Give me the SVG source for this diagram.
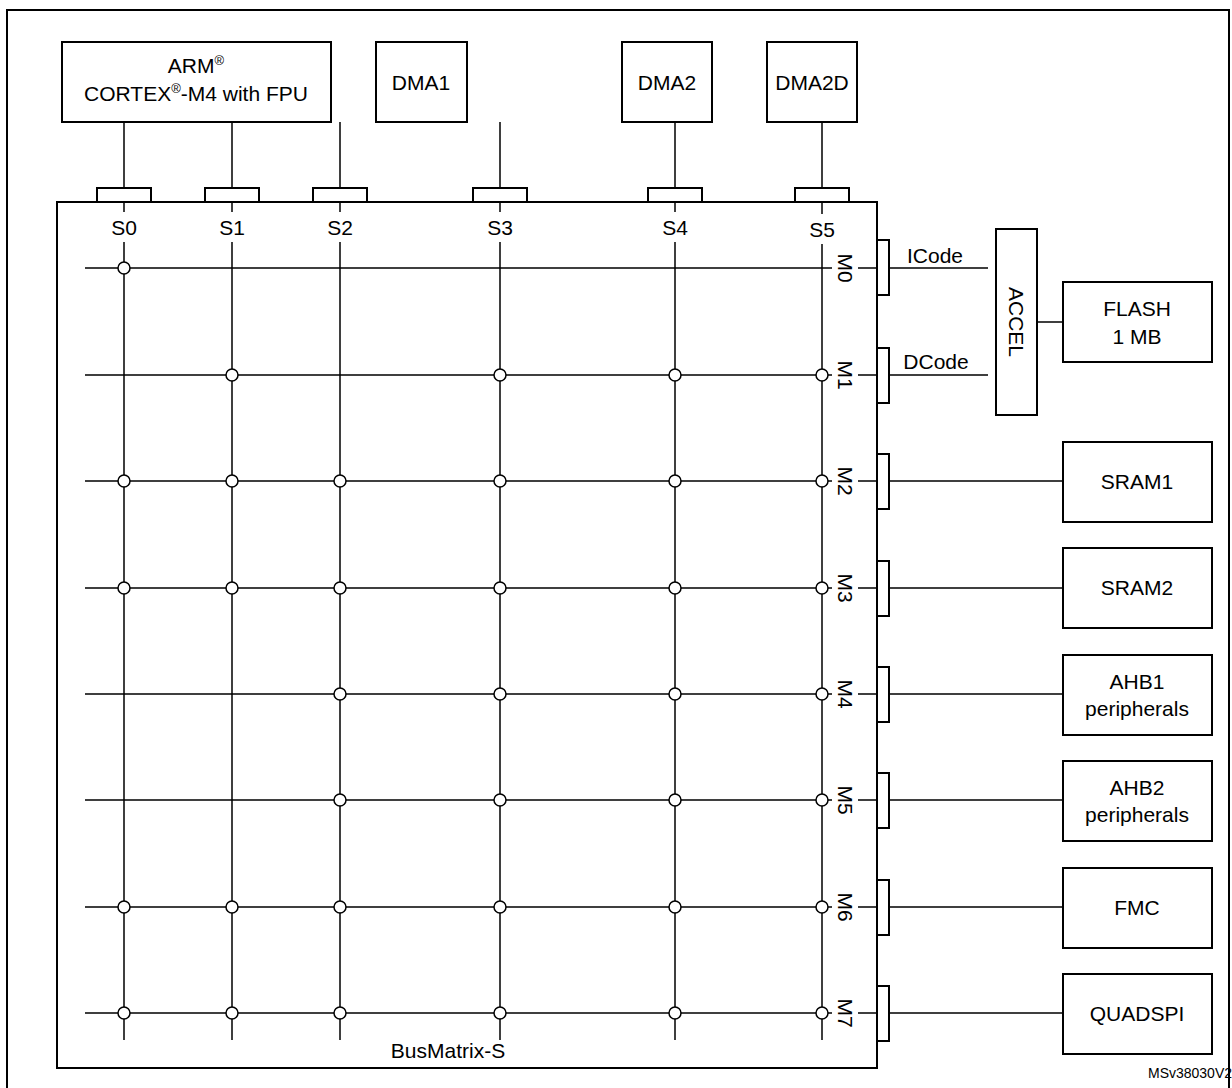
<svg xmlns="http://www.w3.org/2000/svg" width="1232" height="1088" viewBox="0 0 1232 1088">
<style>
.b{fill:#fff;stroke:#000;stroke-width:2}
.l{stroke:#000;stroke-width:1.5;fill:none}
.d{fill:#fff;stroke:#000;stroke-width:1.5}
text{font-family:"Liberation Sans",Arial,sans-serif;font-size:21px;fill:#000;text-anchor:middle}
.s{font-size:13px}
</style>
<rect width="1232" height="1088" fill="#fff"/>
<rect x="7" y="10" width="1222" height="1090" fill="none" stroke="#000" stroke-width="2"/>
<g id="connectors" class="l">
<path d="M124 122V188M232 122V188M340 122V188M500 122V188M675 122V188M822 122V188"/>
<path d="M124 202V212M124 242V1040M232 202V212M232 242V1040M340 202V212M340 242V1040M500 202V212M500 242V1040M675 202V212M675 242V1040M822 202V214M822 244V1040"/>
<path d="M85 268H832M85 375H832M85 481H832M85 588H832M85 694H832M85 800H832M85 907H832M85 1013H832"/>
<path d="M858 268H877M858 375H877M858 481H877M858 588H877M858 694H877M858 800H877M858 907H877M858 1013H877"/>
<path d="M889 268H988M889 375H988M1037 322H1063"/>
<path d="M889 481H1063M889 588H1063M889 694H1063M889 800H1063M889 907H1063M889 1013H1063"/>
</g>
<g id="cpu"><rect class="b" x="62" y="42" width="269" height="80"/>
<text x="196" y="73">ARM<tspan class="s" dy="-8">®</tspan></text>
<text x="196" y="101">CORTEX<tspan class="s" dy="-8">®</tspan><tspan dy="8">-M4 with FPU</tspan></text></g>
<g id="dma1"><rect class="b" x="376" y="42" width="91" height="80"/><text x="421" y="90">DMA1</text></g>
<g id="dma2"><rect class="b" x="622" y="42" width="90" height="80"/><text x="667" y="90">DMA2</text></g>
<g id="dma2d"><rect class="b" x="767" y="42" width="90" height="80"/><text x="812" y="90">DMA2D</text></g>
<g id="busmatrix">
<rect x="57" y="202" width="820" height="866" fill="none" stroke="#000" stroke-width="2"/>
<rect class="b" x="97" y="188" width="54" height="14"/><rect class="b" x="205" y="188" width="54" height="14"/><rect class="b" x="313" y="188" width="54" height="14"/><rect class="b" x="473" y="188" width="54" height="14"/><rect class="b" x="648" y="188" width="54" height="14"/><rect class="b" x="795" y="188" width="54" height="14"/>
<text x="124" y="235">S0</text><text x="232" y="235">S1</text><text x="340" y="235">S2</text><text x="500" y="235">S3</text><text x="675" y="235">S4</text><text x="822" y="237">S5</text>
<g class="b"><rect x="877" y="240" width="12" height="55"/><rect x="877" y="348" width="12" height="55"/><rect x="877" y="454" width="12" height="55"/><rect x="877" y="561" width="12" height="55"/><rect x="877" y="667" width="12" height="55"/><rect x="877" y="773" width="12" height="55"/><rect x="877" y="880" width="12" height="55"/><rect x="877" y="986" width="12" height="55"/></g>
<text transform="translate(838 268) rotate(90)">M0</text><text transform="translate(838 375) rotate(90)">M1</text><text transform="translate(838 481) rotate(90)">M2</text><text transform="translate(838 588) rotate(90)">M3</text><text transform="translate(838 694) rotate(90)">M4</text><text transform="translate(838 800) rotate(90)">M5</text><text transform="translate(838 907) rotate(90)">M6</text><text transform="translate(838 1013) rotate(90)">M7</text>
<g class="d">
<circle cx="124" cy="268" r="6"/>
<circle cx="232" cy="375" r="6"/><circle cx="500" cy="375" r="6"/><circle cx="675" cy="375" r="6"/><circle cx="822" cy="375" r="6"/>
<circle cx="124" cy="481" r="6"/><circle cx="232" cy="481" r="6"/><circle cx="340" cy="481" r="6"/><circle cx="500" cy="481" r="6"/><circle cx="675" cy="481" r="6"/><circle cx="822" cy="481" r="6"/>
<circle cx="124" cy="588" r="6"/><circle cx="232" cy="588" r="6"/><circle cx="340" cy="588" r="6"/><circle cx="500" cy="588" r="6"/><circle cx="675" cy="588" r="6"/><circle cx="822" cy="588" r="6"/>
<circle cx="340" cy="694" r="6"/><circle cx="500" cy="694" r="6"/><circle cx="675" cy="694" r="6"/><circle cx="822" cy="694" r="6"/>
<circle cx="340" cy="800" r="6"/><circle cx="500" cy="800" r="6"/><circle cx="675" cy="800" r="6"/><circle cx="822" cy="800" r="6"/>
<circle cx="124" cy="907" r="6"/><circle cx="232" cy="907" r="6"/><circle cx="340" cy="907" r="6"/><circle cx="500" cy="907" r="6"/><circle cx="675" cy="907" r="6"/><circle cx="822" cy="907" r="6"/>
<circle cx="124" cy="1013" r="6"/><circle cx="232" cy="1013" r="6"/><circle cx="340" cy="1013" r="6"/><circle cx="500" cy="1013" r="6"/><circle cx="675" cy="1013" r="6"/><circle cx="822" cy="1013" r="6"/>
</g>
<text x="448" y="1058">BusMatrix-S</text>
</g>
<text x="935" y="263">ICode</text><text x="936" y="369">DCode</text>
<g id="accel"><rect class="b" x="996" y="229" width="41" height="186"/><text transform="translate(1009 322) rotate(90)">ACCEL</text></g>
<g id="flash"><rect class="b" x="1063" y="282" width="149" height="80"/><text x="1137" y="316">FLASH</text><text x="1137" y="344">1 MB</text></g>
<g id="sram1"><rect class="b" x="1063" y="442" width="149" height="80"/><text x="1137" y="489">SRAM1</text></g>
<g id="sram2"><rect class="b" x="1063" y="548" width="149" height="80"/><text x="1137" y="595">SRAM2</text></g>
<g id="ahb1"><rect class="b" x="1063" y="655" width="149" height="80"/><text x="1137" y="689">AHB1</text><text x="1137" y="716">peripherals</text></g>
<g id="ahb2"><rect class="b" x="1063" y="761" width="149" height="80"/><text x="1137" y="795">AHB2</text><text x="1137" y="822">peripherals</text></g>
<g id="fmc"><rect class="b" x="1063" y="868" width="149" height="80"/><text x="1137" y="915">FMC</text></g>
<g id="quadspi"><rect class="b" x="1063" y="974" width="149" height="80"/><text x="1137" y="1021">QUADSPI</text></g>
<text x="1190" y="1078" style="font-size:14px">MSv38030V2</text>
</svg>
